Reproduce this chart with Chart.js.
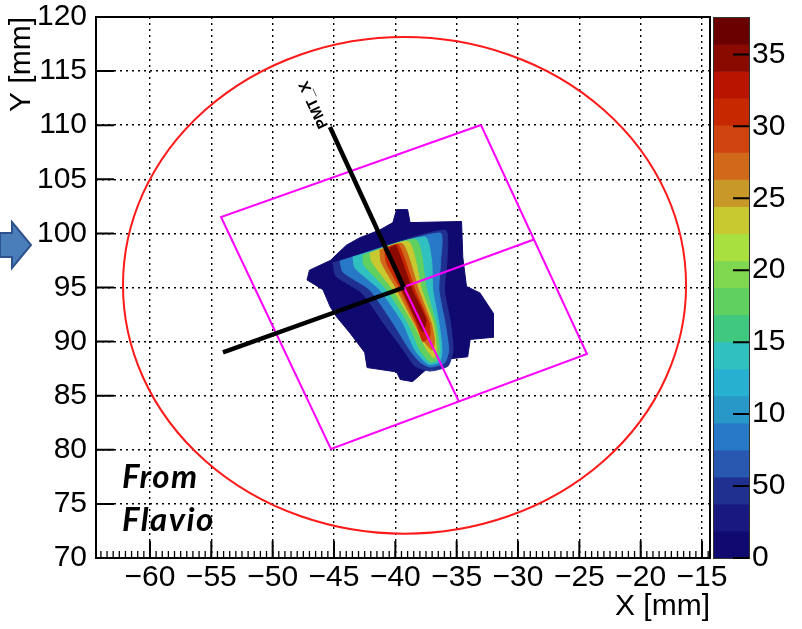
<!DOCTYPE html>
<html>
<head>
<meta charset="utf-8">
<script src="https://cdn.jsdelivr.net/npm/chart.js@4.4.1/dist/chart.umd.min.js"></script>
<style>
  html, body { margin: 0; padding: 0; background: #fff; }
</style>
</head>
<body>
<canvas id="beamChart" width="802" height="629"></canvas>
<script>
// axes
const xMin = -64.4, xMax = -14.35;
const yMin = 70, yMax = 120;
const xTicks = [-60, -55, -50, -45, -40, -35, -30, -25, -20, -15];
const xTickLabels = ['−60', '−55', '−50', '−45', '−40', '−35', '−30', '−25', '−20', '−15'];
const yTicks = [70, 75, 80, 85, 90, 95, 100, 105, 110, 115, 120];
const yTickLabels = ['70', '75', '80', '85', '90', '95', '100', '105', '110', '115', '120'];

// colour scale (counts)
const zMax = 37.6;
const zTicks = [0, 5, 10, 15, 20, 25, 30, 35];
const zTickLabels = ['0', '50', '10', '15', '20', '25', '30', '35'];
const paletteColors = ['#100a70', '#181880', '#203090', '#2858b0', '#2878c8', '#2898c8', '#28b0d0',
  '#30c0c0', '#40c880', '#60d060', '#80d850', '#a8e040', '#c8c830', '#c89828', '#d06a1a',
  '#d04410', '#c82800', '#b81400', '#8b0a00', '#6b0000'];

// beam spot, read as iso-count outlines [x mm, y mm]
const contourLevels = [1, 4.5, 8, 14.5, 18, 23, 27, 31, 35];
const level1 = [[-39.9,102.2],[-39.0,102.2],[-38.8,101.0],[-34.6,101.1],[-34.5,97.8],[-34.2,95.1],[-33.1,94.5],
  [-32.0,92.6],[-32.0,90.4],[-33.9,90.2],[-34.1,88.6],[-36.4,88.3],[-37.5,87.4],[-38.6,86.3],[-39.6,86.5],
  [-39.9,87.2],[-42.3,87.6],[-42.5,89.0],[-43.7,90.8],[-44.8,92.3],[-45.3,93.2],[-45.9,94.8],[-47.2,95.7],
  [-47.0,96.6],[-45.3,97.5],[-44.0,98.9],[-42.9,99.6],[-41.3,100.3],[-40.2,101.0]];
const level4 = [[-45.08,97.26],[-35.96,100.31],[-35.79,97.54],[-36.0,94.77],[-35.5,91.72],[-35.3,89.22],
  [-35.71,87.74],[-37.18,87.28],[-38.4,87.74],[-39.22,89.04],[-40.85,91.53],[-42.72,94.49],[-44.84,96.06]];
const level8 = [[-44.51,97.45],[-36.36,100.04],[-36.3,97.54],[-36.45,94.77],[-35.95,91.72],[-35.65,89.22],
  [-36.0,88.02],[-37.18,87.65],[-37.99,88.11],[-38.81,89.22],[-40.19,91.72],[-42.07,94.77],[-44.27,96.43]];
const level14 = [[-43.45,97.82],[-37.59,99.67],[-37.05,97.54],[-36.95,94.77],[-36.45,91.72],[-36.2,89.22],
  [-36.4,88.11],[-37.34,87.93],[-38.4,89.22],[-39.38,91.72],[-41.25,94.77],[-43.29,96.8]];
const level18 = [[-42.64,98.0],[-38.3,99.39],[-37.45,94.77],[-36.7,91.72],[-36.4,89.22],[-36.6,88.3],
  [-37.18,88.11],[-37.99,89.22],[-38.97,91.72],[-40.68,94.77],[-42.56,97.08]];
const level23 = [[-42.07,98.19],[-38.9,99.2],[-37.85,94.77],[-36.9,91.72],[-36.65,89.22],[-36.85,88.48],
  [-37.42,89.22],[-38.56,91.72],[-40.19,94.77],[-41.91,97.36]];
const level27 = [[-41.25,98.47],[-39.4,99.02],[-38.1,94.77],[-37.08,91.72],[-36.8,89.96],[-37.0,89.22],
  [-37.55,89.87],[-38.45,91.72],[-39.85,94.77],[-41.15,97.36]];
const level31 = [[-40.85,98.6],[-39.75,98.95],[-38.4,94.77],[-37.25,91.72],[-37.2,90.5],[-37.75,90.0],
  [-38.3,91.72],[-39.55,94.77],[-40.75,97.36]];
const level35 = [[-40.4,98.7],[-39.95,98.85],[-38.62,94.77],[-37.5,92.0],[-37.75,90.9],[-38.15,91.72],
  [-39.4,94.77],[-40.45,97.73]];

// overlays [x mm, y mm]
const tileCorners = [[-33.02,110.02],[-24.38,88.85],[-45.25,80.07],[-54.21,101.52]];
const tileCrossA = [[-39.3,95.05],[-28.7,99.44]];
const tileCrossB = [[-39.3,95.05],[-34.82,84.46]];
const pmtXAxis = [[-39.3,95.0],[-45.33,109.83]];
const pmtYAxis = [[-39.3,95.0],[-54.05,89.01]];
const ringCenter = [-39.25, 95.2];
const ringRadius = 22.95;

Chart.defaults.font.family = '"Liberation Sans", Arial, sans-serif';
Chart.defaults.color = '#000';

const toXY = arr => arr.map(p => ({x: p[0], y: p[1]}));
const closed = arr => toXY(arr.concat([arr[0]]));
const levelColor = v => paletteColors[Math.min(paletteColors.length - 1, Math.floor(v / zMax * paletteColors.length))];

const levelShapes = [level1, level4, level8, level14, level18, level23, level27, level31, level35];
const datasets = levelShapes.map((shape, i) => ({
  data: closed(shape),
  backgroundColor: levelColor(contourLevels[i]),
  borderColor: levelColor(contourLevels[i]),
  borderWidth: 1,
  fill: 'shape',
  pointRadius: 0,
  tension: i === 0 ? 0 : 0.2,
  order: 30 - i
}));
const lineSet = (pts, color, width, order) => ({
  data: toXY(pts), borderColor: color, borderWidth: width, fill: false, pointRadius: 0, tension: 0, order
});
datasets.push(lineSet(tileCorners.concat([tileCorners[0]]), '#ff00ff', 2, 6));
datasets.push(lineSet(tileCrossA, '#ff00ff', 2, 5));
datasets.push(lineSet(tileCrossB, '#ff00ff', 2, 5));
datasets.push(lineSet(pmtXAxis, '#000', 4.5, 2));
datasets.push(lineSet(pmtYAxis, '#000', 4.5, 2));

const ringPlugin = {
  id: 'ring',
  afterDatasetsDraw(chart) {
    const {ctx, chartArea, scales: {x, y}} = chart;
    const cx = x.getPixelForValue(ringCenter[0]), cy = y.getPixelForValue(ringCenter[1]);
    const rx = Math.abs(x.getPixelForValue(ringCenter[0] + ringRadius) - cx);
    const ry = Math.abs(y.getPixelForValue(ringCenter[1] + ringRadius) - cy);
    ctx.save();
    ctx.beginPath();
    ctx.rect(chartArea.left, chartArea.top, chartArea.width, chartArea.height);
    ctx.clip();
    ctx.beginPath();
    ctx.ellipse(cx, cy, rx, ry, 0, 0, Math.PI * 2);
    ctx.strokeStyle = '#ff1a1a';
    ctx.lineWidth = 2;
    ctx.stroke();
    ctx.restore();
  }
};

const framePlugin = {
  id: 'frame',
  afterDraw(chart) {
    const {ctx, chartArea: a, scales: {x, y, z}} = chart;
    ctx.save();
    ctx.strokeStyle = '#000';
    ctx.lineWidth = 2;
    ctx.strokeRect(a.left, a.top, a.right - a.left, a.bottom - a.top);
    ctx.beginPath();
    yTicks.forEach(v => { const py = y.getPixelForValue(v); ctx.moveTo(a.left, py); ctx.lineTo(a.left + 18, py); });
    xTicks.forEach(v => { const px = x.getPixelForValue(v); ctx.moveTo(px, a.bottom); ctx.lineTo(px, a.bottom - 17); });
    ctx.stroke();
    ctx.lineWidth = 1.3;
    ctx.beginPath();
    for (let v = Math.ceil(xMin * 2) / 2; v < xMax; v += 0.5) {
      const px = x.getPixelForValue(v);
      ctx.moveTo(px, a.bottom); ctx.lineTo(px, a.bottom - 7);
    }
    ctx.stroke();

    // colour palette
    const x0 = a.right + 3, w = 36;
    const step = zMax / paletteColors.length;
    paletteColors.forEach((c, i) => {
      const yb = z.getPixelForValue(i * step), yt = z.getPixelForValue((i + 1) * step);
      ctx.fillStyle = c;
      ctx.fillRect(x0, yt, w, yb - yt + 0.6);
    });
    ctx.lineWidth = 1;
    ctx.strokeStyle = '#333';
    ctx.strokeRect(x0 + 0.5, z.top + 0.5, w, z.bottom - z.top);
    ctx.strokeStyle = '#000';
    ctx.lineWidth = 2;
    ctx.beginPath();
    zTicks.forEach(v => { const py = z.getPixelForValue(v); ctx.moveTo(x0 + w - 16, py); ctx.lineTo(x0 + w, py); });
    ctx.stroke();

    // PMT_X label along the axis line
    const p0x = x.getPixelForValue(pmtXAxis[0][0]), p0y = y.getPixelForValue(pmtXAxis[0][1]);
    const p1x = x.getPixelForValue(pmtXAxis[1][0]), p1y = y.getPixelForValue(pmtXAxis[1][1]);
    const ang = Math.atan2(p1y - p0y, p1x - p0x);
    ctx.translate(p1x + Math.cos(ang) * 2, p1y + Math.sin(ang) * 2);
    ctx.rotate(ang);
    ctx.font = 'bold 15px "Liberation Sans", Arial, sans-serif';
    ctx.fillStyle = '#000';
    ctx.textBaseline = 'alphabetic';
    ctx.textAlign = 'left';
    ctx.fillText('PMT_X', 0, -1);
    ctx.restore();

    // note and slide arrow
    ctx.save();
    ctx.fillStyle = '#000';
    ctx.font = 'italic bold 33px Lato, "Open Sans", sans-serif';
    ctx.letterSpacing = '1.5px';
    ctx.textAlign = 'left';
    ctx.textBaseline = 'alphabetic';
    ctx.fillText('From', a.left + 26, 488);
    ctx.fillText('Flavio', a.left + 26, 531);
    ctx.beginPath();
    ctx.moveTo(0, 233); ctx.lineTo(12, 233); ctx.lineTo(12, 222); ctx.lineTo(31, 245);
    ctx.lineTo(12, 268); ctx.lineTo(12, 257); ctx.lineTo(0, 257); ctx.closePath();
    ctx.fillStyle = '#4a7ebb';
    ctx.fill();
    ctx.strokeStyle = '#2f528f';
    ctx.lineWidth = 2;
    ctx.stroke();
    ctx.restore();
  }
};

const tickFont = { size: 30, lineHeight: 1.1 };
const hiddenTicks = len => ({ display: true, drawOnChartArea: false, drawTicks: true, tickLength: len, tickColor: 'rgba(0,0,0,0)' });

new Chart(document.getElementById('beamChart'), {
  type: 'line',
  data: { datasets },
  options: {
    responsive: false,
    animation: false,
    events: [],
    layout: { padding: { top: 17, left: 0, right: 0, bottom: 0 } },
    plugins: { legend: { display: false }, tooltip: { enabled: false } },
    scales: {
      x: {
        type: 'linear', position: 'bottom', min: xMin, max: xMax, z: 1,
        afterBuildTicks: s => { s.ticks = xTicks.map(v => ({ value: v })); },
        afterFit: s => { s.height = 71; },
        grid: { color: '#000', lineWidth: 1.4, drawTicks: false },
        border: { display: false, dash: [2, 4] },
        ticks: { font: tickFont, padding: 3, maxRotation: 0, autoSkip: false,
                 callback: (v, i) => xTickLabels[i] },
        title: { display: true, text: 'X [mm]', align: 'end', font: { size: 30 }, padding: { top: 0, bottom: 4 } }
      },
      y: {
        type: 'linear', position: 'left', min: yMin, max: yMax, z: 1,
        afterBuildTicks: s => { s.ticks = yTicks.map(v => ({ value: v })); },
        afterFit: s => { s.width = 96; },
        grid: { color: '#000', lineWidth: 1.4, drawTicks: true, tickLength: 9, tickColor: 'rgba(0,0,0,0)' },
        border: { display: false, dash: [2, 4] },
        ticks: { font: tickFont, padding: 0, autoSkip: false,
                 callback: (v, i) => yTickLabels[i] },
        title: { display: true, text: 'Y [mm]', align: 'end', font: { size: 30 }, padding: { top: 4, bottom: 0 } }
      },
      z: {
        type: 'linear', axis: 'y', position: 'right', min: 0, max: zMax,
        afterBuildTicks: s => { s.ticks = zTicks.map(v => ({ value: v })); },
        afterFit: s => { s.width = 92; },
        grid: hiddenTicks(42),
        border: { display: false },
        ticks: { font: tickFont, padding: 0, autoSkip: false,
                 callback: (v, i) => zTickLabels[i] }
      }
    }
  },
  plugins: [ringPlugin, framePlugin]
});
</script>
</body>
</html>
